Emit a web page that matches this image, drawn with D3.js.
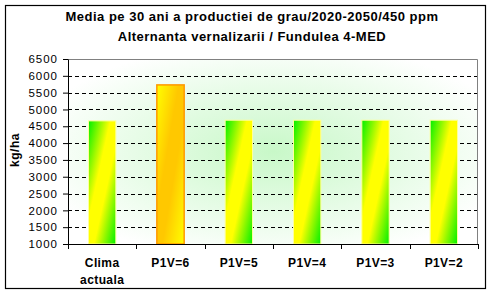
<!DOCTYPE html>
<html>
<head>
<meta charset="utf-8">
<script src="https://cdn.jsdelivr.net/npm/d3@7"></script>
<style>
  body { margin: 0; background: #fff; }
  svg { display: block; font-family: "Liberation Sans", Arial, sans-serif; }
</style>
</head>
<body>
<div id="chart"></div>
<script>
const categories = [["Clima", "actuala"], ["P1V=6"], ["P1V=5"], ["P1V=4"], ["P1V=3"], ["P1V=2"]]
const values = [4660, 5730, 4680, 4680, 4680, 4680]
const yTicks = [1000, 1500, 2000, 2500, 3000, 3500, 4000, 4500, 5000, 5500, 6000, 6500]
const titleLines = ["Media pe 30 ani a productiei de grau/2020-2050/450 ppm", "Alternanta vernalizarii / Fundulea 4-MED"]
const yLabel = "kg/ha"

const W = 492, H = 295
const MARGIN = { TOP: 59, BOTTOM: 51, LEFT: 68, RIGHT: 14 }
const WIDTH = W - MARGIN.LEFT - MARGIN.RIGHT
const HEIGHT = H - MARGIN.TOP - MARGIN.BOTTOM

const svg = d3.select("#chart").append("svg")
    .attr("width", W)
    .attr("height", H)

const defs = svg.append("defs")
const bg = defs.append("radialGradient").attr("id", "bg")
    .attr("cx", "50%").attr("cy", "50%").attr("r", "60%")
bg.append("stop").attr("offset", "0%").attr("stop-color", "#c8f8c8")
bg.append("stop").attr("offset", "100%").attr("stop-color", "#ffffff")

function barGrad(id, corner, middle) {
    const g = defs.append("linearGradient").attr("id", id)
        .attr("x1", 0).attr("y1", 0).attr("x2", 1).attr("y2", 1)
    g.append("stop").attr("offset", "0%").attr("stop-color", corner)
    g.append("stop").attr("offset", "40%").attr("stop-color", middle)
    g.append("stop").attr("offset", "60%").attr("stop-color", middle)
    g.append("stop").attr("offset", "100%").attr("stop-color", corner)
}
barGrad("gGreen", "#00f000", "#ffff00")
barGrad("gGold", "#ffff00", "#ffc800")

// outer border
svg.append("rect")
    .attr("x", 5.5).attr("y", 5.5)
    .attr("width", 480).attr("height", 283)
    .attr("fill", "none").attr("stroke", "#000").attr("stroke-width", 1.2)

// title
svg.append("g").selectAll("text")
    .data(titleLines)
    .join("text")
    .attr("x", 252)
    .attr("y", (d, i) => 21 + i * 20)
    .attr("text-anchor", "middle")
    .attr("font-size", 13)
    .attr("font-weight", "bold")
    .attr("letter-spacing", 0.5)
    .text(d => d)

const g = svg.append("g")
    .attr("transform", `translate(${MARGIN.LEFT}, ${MARGIN.TOP})`)

const x = d3.scaleBand()
    .domain(categories.map(d => d.join(" ")))
    .range([0, WIDTH])
    .paddingInner(0.6)
    .paddingOuter(0.3)

const xCat = d3.scaleBand()
    .domain(categories.map(d => d.join(" ")))
    .range([0, WIDTH])

const y = d3.scaleLinear()
    .domain([1000, 6500])
    .range([HEIGHT, 0])

// plot background
g.append("rect")
    .attr("width", WIDTH).attr("height", HEIGHT)
    .attr("fill", "url(#bg)")

// gridlines
g.append("g").selectAll("line")
    .data(yTicks.filter(t => t > 1000 && t < 6500))
    .join("line")
    .attr("x1", 0).attr("x2", WIDTH)
    .attr("y1", d => Math.round(y(d)) + 0.5)
    .attr("y2", d => Math.round(y(d)) + 0.5)
    .attr("stroke", "#000")
    .attr("stroke-dasharray", "4,3")

// top and right border
g.append("path")
    .attr("d", `M0,0.5H${WIDTH - 0.5}V${HEIGHT}`)
    .attr("fill", "none").attr("stroke", "#808080")

// bars
g.append("g").selectAll("rect")
    .data(values)
    .join("rect")
    .attr("x", (d, i) => x(categories[i].join(" ")))
    .attr("y", d => y(d))
    .attr("width", x.bandwidth())
    .attr("height", d => HEIGHT - y(d))
    .attr("fill", (d, i) => i === 1 ? "url(#gGold)" : "url(#gGreen)")
    .attr("stroke", (d, i) => i === 1 ? "#ff9900" : "#ffff99")
    .attr("stroke-width", (d, i) => i === 1 ? 1.5 : 1)

// y axis
const yAxis = g.append("g")
    .call(d3.axisLeft(y).tickValues(yTicks).tickFormat(d3.format("d"))
        .tickSize(5).tickSizeOuter(0).tickPadding(5))
yAxis.select(".domain").attr("stroke", "#000")
yAxis.selectAll("text")
    .attr("font-size", 11.5)
    .attr("letter-spacing", 1)
    .attr("fill", "#000")
    .attr("font-family", "Liberation Sans, Arial, sans-serif")

// x axis
const xAxisG = g.append("g")
    .attr("transform", `translate(0, ${HEIGHT})`)
xAxisG.append("line")
    .attr("x1", 0).attr("x2", WIDTH)
    .attr("y1", 0.5).attr("y2", 0.5)
    .attr("stroke", "#000")
xAxisG.selectAll(".tk")
    .data(xCat.domain().concat(["end"]))
    .join("line")
    .attr("class", "tk")
    .attr("x1", (d, i) => Math.round(i * xCat.step()) + 0.5)
    .attr("x2", (d, i) => Math.round(i * xCat.step()) + 0.5)
    .attr("y1", 0).attr("y2", 5)
    .attr("stroke", "#000")
const labels = xAxisG.selectAll(".lbl")
    .data(categories)
    .join("text")
    .attr("class", "lbl")
    .attr("text-anchor", "middle")
    .attr("font-size", 12)
    .attr("font-weight", "bold")
    .attr("letter-spacing", 0.4)
    .attr("transform", d => `translate(${xCat(d.join(" ")) + xCat.bandwidth() / 2}, 0)`)
labels.selectAll("tspan")
    .data(d => d)
    .join("tspan")
    .attr("x", 0)
    .attr("y", (d, i) => 23 + i * 17)
    .text(d => d)

// y label
svg.append("text")
    .attr("transform", "translate(19, 150) rotate(-90)")
    .attr("text-anchor", "middle")
    .attr("font-size", 12)
    .attr("font-weight", "bold")
    .attr("letter-spacing", 0.5)
    .text(yLabel)
</script>
</body>
</html>
